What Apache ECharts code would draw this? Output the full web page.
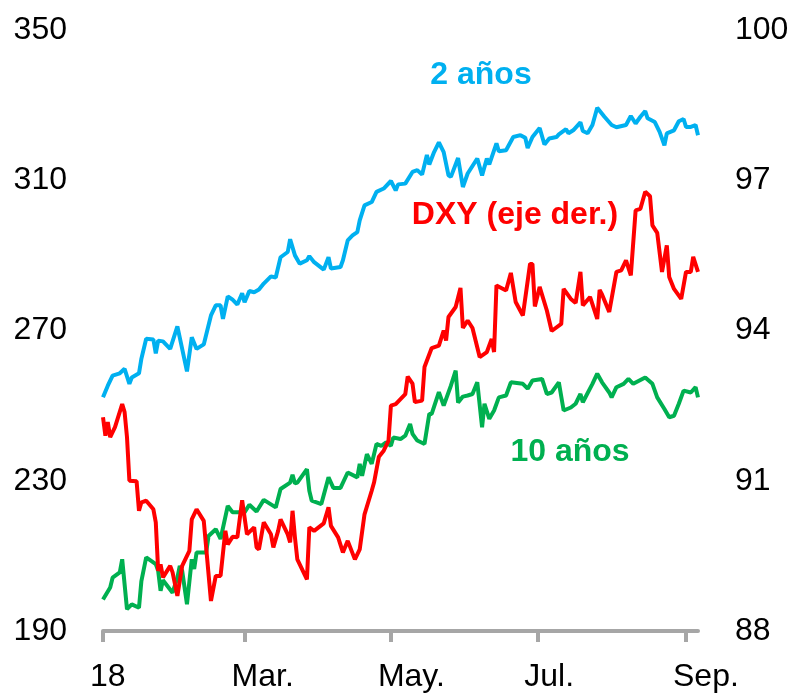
<!DOCTYPE html>
<html>
<head>
<meta charset="utf-8">
<script src="https://cdn.jsdelivr.net/npm/echarts@6/dist/echarts.min.js"></script>
<style>
  html, body { margin: 0; padding: 0; background: #fff; }
  #chart { width: 794px; height: 693px; }
</style>
</head>
<body>
<div id="chart"></div>
<script>
// x = days since 1 Jan 2018
const tickDays = [0, 59, 120, 181, 243]
const tickLabels = ['18', 'Mar.', 'May.', 'Jul.', 'Sep.']

const twoYrDay = [0, 2, 4, 7, 9, 11, 12, 15, 16, 18, 21, 22, 23, 25, 28, 31, 35, 37, 39, 42, 45, 47, 49, 50, 52, 54, 56, 58, 59, 61, 63, 65, 67, 70, 72, 74, 77, 78, 80, 82, 85, 86, 88, 92, 94, 95, 99, 100, 102, 104, 106, 107, 109, 112, 114, 117, 120, 122, 123, 126, 129, 131, 133, 135, 136, 138, 140, 142, 144, 145, 148, 150, 152, 156, 158, 160, 161, 164, 165, 168, 171, 174, 176, 177, 179, 182, 184, 186, 189, 190, 193, 194, 196, 199, 200, 202, 204, 206, 209, 212, 214, 218, 220, 222, 224, 226, 227, 230, 232, 234, 235, 238, 240, 242, 243, 245, 247, 248]
const twoYrVal = [252.2, 255.3, 258.0, 258.6, 259.8, 255.8, 257.5, 258.6, 262.5, 267.8, 267.6, 263.9, 267.3, 267.1, 265.1, 271.1, 259.1, 268.2, 265.1, 266.3, 274.0, 276.7, 276.7, 273.1, 279.1, 278.2, 276.9, 279.9, 277.5, 280.5, 280.2, 280.9, 282.5, 284.4, 284.1, 289.5, 290.9, 294.3, 290.0, 287.8, 288.7, 289.8, 288.2, 286.2, 289.5, 286.5, 286.9, 288.7, 294.0, 295.3, 296.2, 299.3, 303.3, 304.2, 306.9, 307.8, 309.8, 307.3, 308.9, 309.1, 312.2, 312.7, 311.5, 316.7, 314.2, 317.5, 320.1, 317.5, 311.3, 310.9, 315.9, 308.2, 311.8, 315.8, 311.3, 315.8, 314.2, 319.8, 317.7, 318.0, 321.5, 322.0, 321.3, 318.6, 321.5, 323.9, 319.5, 321.1, 321.5, 322.2, 323.6, 322.5, 323.3, 325.4, 323.1, 322.5, 324.7, 329.3, 326.9, 324.7, 324.1, 324.7, 327.1, 325.1, 326.9, 328.4, 326.5, 325.5, 322.9, 319.3, 322.5, 323.3, 325.7, 326.3, 324.2, 324.2, 324.7, 322.0]

const tenYrDay = [0, 3, 4, 7, 8, 10, 12, 15, 16, 18, 22, 23, 24, 25, 29, 31, 32, 33, 35, 37, 38, 39, 43, 44, 47, 49, 52, 54, 59, 61, 64, 67, 72, 74, 78, 79, 80, 81, 85, 86, 87, 91, 94, 96, 99, 102, 106, 107, 108, 110, 112, 114, 116, 118, 120, 121, 124, 126, 128, 129, 131, 134, 136, 137, 140, 142, 145, 147, 148, 150, 152, 154, 156, 158, 159, 161, 163, 165, 168, 170, 175, 177, 179, 183, 185, 187, 190, 192, 195, 197, 199, 200, 204, 206, 208, 211, 212, 214, 217, 219, 221, 226, 229, 231, 234, 236, 238, 240, 242, 245, 247, 248]
const tenYrVal = [198.4, 201.6, 204.2, 205.6, 209.1, 195.8, 197.1, 196.2, 203.3, 209.6, 207.8, 206.0, 200.7, 203.5, 200.2, 204.2, 207.3, 206.0, 197.1, 209.1, 206.5, 210.9, 210.9, 215.3, 217.1, 214.5, 223.3, 221.6, 221.6, 223.6, 221.8, 224.9, 222.9, 227.8, 229.5, 231.6, 229.3, 229.5, 233.1, 227.3, 224.7, 223.8, 230.9, 228.1, 228.1, 232.2, 230.9, 234.5, 231.3, 237.1, 234.5, 239.8, 239.3, 240.2, 239.3, 241.5, 241.1, 242.0, 245.1, 242.5, 240.7, 239.8, 247.8, 247.8, 253.6, 250.0, 255.3, 259.3, 250.8, 252.4, 252.7, 253.1, 256.2, 244.2, 250.5, 246.5, 248.7, 252.2, 252.7, 256.2, 255.8, 254.5, 256.7, 257.1, 253.1, 253.5, 256.2, 248.7, 249.5, 250.5, 253.1, 250.9, 255.8, 258.5, 256.2, 253.5, 252.2, 254.9, 255.8, 257.1, 255.8, 257.5, 255.8, 252.2, 249.1, 246.9, 247.3, 250.5, 254.0, 253.5, 254.9, 252.2]

const dxyDay = [0, 1, 2, 3, 5, 8, 9, 10, 11, 14, 15, 16, 18, 21, 22, 23, 24, 25, 28, 29, 31, 33, 36, 37, 39, 42, 45, 47, 49, 51, 52, 54, 56, 58, 60, 63, 64, 65, 67, 70, 71, 73, 74, 77, 78, 79, 80, 81, 85, 86, 88, 92, 94, 95, 98, 100, 102, 105, 107, 109, 112, 113, 115, 117, 119, 120, 122, 124, 126, 127, 129, 130, 133, 134, 137, 140, 142, 143, 144, 147, 149, 150, 152, 154, 157, 160, 162, 163, 164, 168, 170, 172, 175, 178, 179, 180, 182, 185, 187, 191, 192, 195, 197, 199, 200, 203, 206, 207, 208, 211, 214, 216, 218, 220, 222, 224, 226, 228, 229, 231, 233, 235, 236, 238, 241, 243, 245, 246, 248]
const dxyVal = [92.27, 91.9, 92.17, 91.87, 92.07, 92.53, 92.37, 91.87, 91.0, 90.99, 90.4, 90.57, 90.6, 90.43, 90.17, 89.2, 89.33, 89.07, 89.3, 89.17, 88.7, 89.3, 89.6, 90.23, 90.43, 90.2, 88.6, 89.1, 89.1, 90.0, 89.73, 89.88, 89.87, 90.61, 89.93, 90.07, 89.67, 89.63, 90.17, 89.93, 89.67, 90.0, 90.23, 89.93, 89.77, 90.4, 89.87, 89.43, 89.03, 90.07, 90.0, 90.15, 90.47, 90.1, 89.87, 89.57, 89.8, 89.43, 89.63, 90.33, 90.8, 90.97, 91.48, 91.6, 91.8, 92.5, 92.53, 92.63, 92.73, 93.08, 92.94, 92.57, 92.6, 93.27, 93.65, 93.7, 94.0, 93.8, 94.27, 94.47, 94.85, 94.05, 94.2, 94.05, 93.47, 93.57, 93.83, 93.57, 94.9, 94.8, 95.15, 94.57, 94.3, 95.33, 95.33, 94.48, 94.87, 94.4, 93.99, 94.13, 94.83, 94.63, 94.55, 95.17, 94.5, 94.67, 94.23, 94.81, 94.72, 94.37, 95.17, 95.2, 95.4, 95.1, 96.4, 96.43, 96.77, 96.68, 96.1, 95.95, 95.17, 95.7, 95.07, 94.83, 94.63, 95.17, 95.17, 95.47, 95.17]

const leftMin = 190, leftMax = 350, leftStep = 40
const rightMin = 88, rightMax = 100, rightStep = 3

const font = 'Liberation Sans'
const pairs = (xs, ys) => xs.map((x, i) => [x, ys[i]])

const chart = echarts.init(document.getElementById('chart'))

const option = {
  backgroundColor: '#ffffff',
  animation: false,
  grid: { left: 103, right: 96, top: 30, bottom: 62 },
  xAxis: {
    type: 'value',
    min: 0,
    max: 248,
    axisLine: { show: true, lineStyle: { color: '#a6a6a6', width: 4 } },
    axisTick: {
      show: true,
      customValues: tickDays,
      length: 11,
      lineStyle: { color: '#a6a6a6', width: 4 }
    },
    axisLabel: {
      customValues: tickDays,
      formatter: (v) => tickLabels[tickDays.indexOf(v)] || '',
      color: '#000',
      fontFamily: font,
      fontSize: 32,
      align: 'left',
      padding: [0, 0, 0, -13],
      margin: 30
    },
    splitLine: { show: false }
  },
  yAxis: [
    {
      type: 'value',
      min: leftMin,
      max: leftMax,
      interval: leftStep,
      axisLine: { show: false },
      axisTick: { show: false },
      splitLine: { show: false },
      axisLabel: { color: '#000', fontFamily: font, fontSize: 32, margin: 36 }
    },
    {
      type: 'value',
      min: rightMin,
      max: rightMax,
      interval: rightStep,
      position: 'right',
      axisLine: { show: false },
      axisTick: { show: false },
      splitLine: { show: false },
      axisLabel: { color: '#000', fontFamily: font, fontSize: 32, margin: 37, align: 'left' }
    }
  ],
  series: [
    {
      name: '2 años',
      type: 'line',
      yAxisIndex: 0,
      data: pairs(twoYrDay, twoYrVal),
      showSymbol: false,
      lineStyle: { color: '#00b0f0', width: 4 }
    },
    {
      name: '10 años',
      type: 'line',
      yAxisIndex: 0,
      data: pairs(tenYrDay, tenYrVal),
      showSymbol: false,
      lineStyle: { color: '#00b050', width: 4 }
    },
    {
      name: 'DXY (eje der.)',
      type: 'line',
      yAxisIndex: 1,
      data: pairs(dxyDay, dxyVal),
      showSymbol: false,
      lineStyle: { color: '#ff0000', width: 4 }
    }
  ],
  graphic: [
    {
      type: 'text', x: 481, y: 75,
      style: { text: '2 años', fill: '#00b0f0', font: `bold 32px "${font}"`, align: 'center', verticalAlign: 'middle' }
    },
    {
      type: 'text', x: 515, y: 215,
      style: { text: 'DXY (eje der.)', fill: '#ff0000', font: `bold 32px "${font}"`, align: 'center', verticalAlign: 'middle' }
    },
    {
      type: 'text', x: 570, y: 452,
      style: { text: '10 años', fill: '#00b050', font: `bold 32px "${font}"`, align: 'center', verticalAlign: 'middle' }
    }
  ]
}

chart.setOption(option)
</script>
</body>
</html>
